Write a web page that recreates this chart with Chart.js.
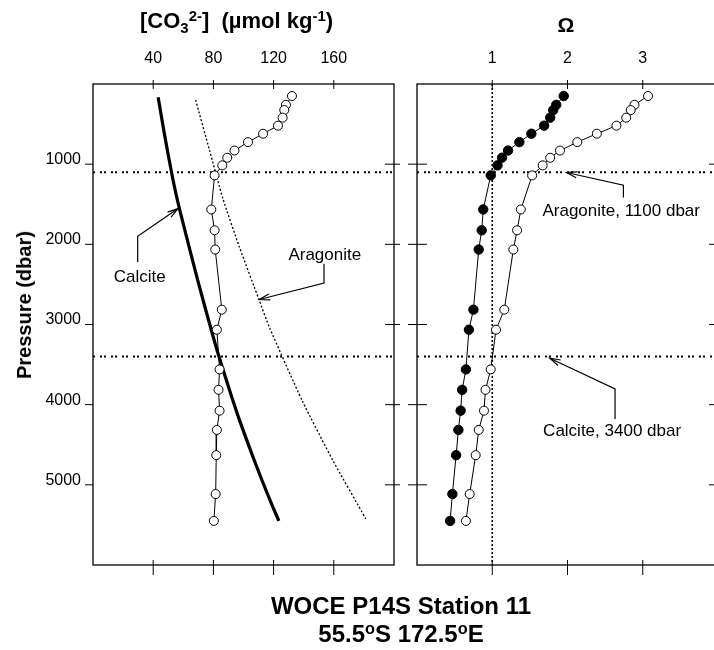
<!DOCTYPE html>
<html><head><meta charset="utf-8">
<script src="https://cdn.jsdelivr.net/npm/chart.js@4.4.0/dist/chart.umd.min.js"></script>
<style>
html,body{margin:0;padding:0;width:714px;height:650px;overflow:hidden;background:#fff;font-family:"Liberation Sans",Arial,sans-serif;}
#c1{position:absolute;left:0;top:0;}
#c2{position:absolute;left:400px;top:0;}
.t{position:absolute;white-space:nowrap;color:#000;line-height:1;}
.b{font-weight:bold;}
.sub,.sup{font-size:0.68em;position:relative;}
.sub{top:0.35em;}
.sup{top:-0.5em;}
.note{font-size:17px;transform:translate(-50%,-50%);}
.noteL{font-size:17px;transform:translate(0,-50%);}
</style></head><body>
<canvas id="c1" width="400" height="650"></canvas>
<canvas id="c2" width="330" height="650"></canvas>
<div class="t b" style="left:140px;top:10px;font-size:22px;">[CO<span class="sub">3</span><span class="sup">2-</span>]&nbsp; (µmol kg<span class="sup">-1</span>)</div>
<div class="t b" style="left:566px;top:24px;font-size:21px;transform:translate(-50%,-50%);">Ω</div>
<div class="t b" style="left:24px;top:305px;font-size:20px;transform:translate(-50%,-50%) rotate(-90deg);">Pressure (dbar)</div>
<div class="t b" style="left:401px;top:606px;font-size:24px;transform:translate(-50%,-50%);">WOCE P14S Station 11</div>
<div class="t b" style="left:401px;top:634px;font-size:24px;transform:translate(-50%,-50%);">55.5<span class="sup">o</span>S 172.5<span class="sup">o</span>E</div>
<script>
// ---- data ----
const pressure = [150,260,325,420,520,620,725,830,920,1015,1140,1565,1825,2065,2815,3065,3560,3815,4075,4315,4630,5115,5450];
const co3 = [132.2,128.2,127.1,126.0,122.9,113.0,103.0,94.0,89.2,85.9,80.8,78.6,80.8,81.2,85.6,82.3,84.1,83.4,84.1,82.3,81.9,81.5,80.3];
const omegaCalcite = [1.95,1.85,1.81,1.77,1.69,1.52,1.36,1.21,1.13,1.07,0.98,0.88,0.86,0.82,0.75,0.69,0.65,0.60,0.58,0.55,0.52,0.47,0.44];
const omegaAragonite = [3.07,2.89,2.84,2.78,2.65,2.39,2.13,1.90,1.77,1.67,1.53,1.38,1.33,1.28,1.16,1.05,0.98,0.91,0.89,0.82,0.78,0.70,0.65];
const calcSatP = [165,650,1200,1575,2450,3075,3400,4115,4740,5200,5450];
const calcSatCO3 = [43.3,47.7,53.2,57.7,69.6,78.7,83.7,95.9,108.1,117.8,123.5];
const araSatP = [200,825,1430,2035,2700,3035,3950,4700,5425];
const araSatCO3 = [68.2,77.4,86.3,97.3,110.5,117.2,139,159.5,181.3];
const horizonP = [1100,3400];
const co3Ticks = [40,80,120,160];
const omegaTicks = [1,2,3];
const pressureTicks = [1000,2000,3000,4000,5000];
const co3Range = [0,200];
const omegaRange = [0,4];
const pressureRange = [0,6000];
const saturationOmega = 1;

// ---- annotations (data coordinates) ----
const leftNotes = [
  {text:'Calcite', at:[31,2390], align:'c', path:[[29.7,2221],[29.7,1900],[56.5,1554]]},
  {text:'Aragonite', at:[154,2125], align:'c', path:[[153.5,2241],[153.5,2484],[110.5,2688]]}
];
const rightNotes = [
  {text:'Aragonite, 1100 dbar', at:[1.667,1575], align:'l', path:[[2.743,1416],[2.743,1263],[1.987,1104]]},
  {text:'Calcite, 3400 dbar', at:[1.676,4316], align:'l', path:[[2.632,4179],[2.632,3804],[1.765,3421]]}
];

const FONT = "'Liberation Sans', Arial, sans-serif";
const pts = (xs, ys) => xs.map((v,i)=>({x:v, y:ys[i]}));

function framePlugin(t){ return {
  id:'frame',
  afterDraw(chart){
    const {ctx, chartArea:a, scales:{x,y}} = chart;
    ctx.save(); ctx.strokeStyle='#000'; ctx.lineWidth=1.3;
    ctx.strokeRect(a.left, a.top, a.right-a.left, a.bottom-a.top);
    ctx.lineWidth=1; ctx.beginPath();
    x.ticks.forEach(tk=>{const px=x.getPixelForValue(tk.value);
      ctx.moveTo(px,a.top-t.topOut); ctx.lineTo(px,a.top+t.topIn);
      ctx.moveTo(px,a.bottom-t.botIn); ctx.lineTo(px,a.bottom+t.botOut);});
    y.ticks.forEach(tk=>{const py=y.getPixelForValue(tk.value);
      ctx.moveTo(a.left-t.leftOut,py); ctx.lineTo(a.left+t.leftIn,py);
      ctx.moveTo(a.right-t.rightIn,py); ctx.lineTo(a.right+t.rightOut,py);});
    ctx.stroke(); ctx.restore();
  }}}

function notesPlugin(notes){ return {
  id:'notes',
  afterDraw(chart){
    const {ctx, scales:{x,y}} = chart;
    ctx.save(); ctx.strokeStyle='#000'; ctx.lineWidth=1.2;
    notes.forEach(n=>{
      const p = n.path.map(([vx,vy])=>[x.getPixelForValue(vx), y.getPixelForValue(vy)]);
      ctx.beginPath(); ctx.moveTo(p[0][0],p[0][1]);
      p.slice(1).forEach(q=>ctx.lineTo(q[0],q[1])); ctx.stroke();
      const [tx,ty]=p[p.length-1], [fx,fy]=p[p.length-2];
      const ang=Math.atan2(ty-fy,tx-fx), L=11, w=0.28;
      ctx.beginPath();
      ctx.moveTo(tx-L*Math.cos(ang-w), ty-L*Math.sin(ang-w));
      ctx.lineTo(tx,ty);
      ctx.lineTo(tx-L*Math.cos(ang+w), ty-L*Math.sin(ang+w));
      ctx.stroke();
    });
    ctx.restore();
  }}}

function makeChart(id, xr, xticks, datasets, yWidth, padRight, showY, frame, notes){
  return new Chart(document.getElementById(id), {
    type:'scatter',
    data:{datasets},
    options:{
      responsive:false, animation:false, devicePixelRatio:1,
      layout:{padding:{left:0,top:0,right:padRight,bottom:85}},
      plugins:{legend:{display:false}, tooltip:{enabled:false}},
      scales:{
        x:{type:'linear', position:'top', min:xr[0], max:xr[1],
           afterBuildTicks:s=>{s.ticks=xticks.map(v=>({value:v}));},
           afterFit:s=>{s.height=84;},
           grid:{display:false, drawTicks:false}, border:{display:false},
           ticks:{color:'#000', padding:16, maxRotation:0, font:{family:FONT,size:16}, callback:v=>String(v)}},
        y:{type:'linear', position:'left', reverse:true, min:pressureRange[0], max:pressureRange[1],
           afterBuildTicks:s=>{s.ticks=pressureTicks.map(v=>({value:v}));},
           afterFit:s=>{s.width=yWidth;},
           grid:{display:false, drawTicks:false}, border:{display:false},
           ticks:{display:showY, color:'#000', padding:12, labelOffset:-4.5, font:{family:FONT,size:16}, callback:v=>String(v)}}
      }
    },
    plugins:[framePlugin(frame), notesPlugin(notes)]
  });
}

const openPt = {pointRadius:4.5, pointBackgroundColor:'#fff', pointBorderColor:'#000', pointBorderWidth:1, borderColor:'#000', borderWidth:1, showLine:true};
const horizonSets = (xr)=>horizonP.map(p=>({data:[{x:xr[0],y:p},{x:xr[1],y:p}], showLine:true, pointRadius:0, borderColor:'#000', borderWidth:2, borderDash:[2,5,2,2]}));

const leftChart = makeChart('c1', co3Range, co3Ticks, [
  Object.assign({data:pts(co3, pressure)}, openPt),
  {data:pts(calcSatCO3, calcSatP), showLine:true, pointRadius:0, borderColor:'#000', borderWidth:3.2, tension:0.2},
  {data:pts(araSatCO3, araSatP), showLine:true, pointRadius:0, borderColor:'#000', borderWidth:1.3, borderDash:[2,2], tension:0.2},
  ...horizonSets(co3Range)
], 93, 6, true, {topOut:4,topIn:5,botIn:5,botOut:10,leftOut:8,leftIn:0,rightIn:9,rightOut:9}, leftNotes);

const rightChart = makeChart('c2', omegaRange, omegaTicks, [
  {data:pts(omegaCalcite, pressure), showLine:true, pointRadius:4.7, pointBackgroundColor:'#000', pointBorderColor:'#000', pointBorderWidth:1, borderColor:'#000', borderWidth:1},
  Object.assign({data:pts(omegaAragonite, pressure)}, openPt),
  {data:[{x:saturationOmega,y:pressureRange[0]},{x:saturationOmega,y:pressureRange[1]}], showLine:true, pointRadius:0, borderColor:'#000', borderWidth:1.6, borderDash:[2,2]},
  ...horizonSets(omegaRange)
], 17, 12, false, {topOut:4,topIn:5,botIn:5,botOut:10,leftOut:9,leftIn:10,rightIn:9,rightOut:9}, rightNotes);

// annotation labels as HTML text placed through the scales
function placeLabels(chart, notes, offX){
  const {x,y} = chart.scales;
  notes.forEach(n=>{
    const d=document.createElement('div');
    d.className='t '+(n.align==='c'?'note':'noteL');
    d.textContent=n.text;
    d.style.left=(offX + x.getPixelForValue(n.at[0]))+'px';
    d.style.top=y.getPixelForValue(n.at[1])+'px';
    document.body.appendChild(d);
  });
}
placeLabels(leftChart, leftNotes, 0);
placeLabels(rightChart, rightNotes, 400);
</script>
</body></html>
